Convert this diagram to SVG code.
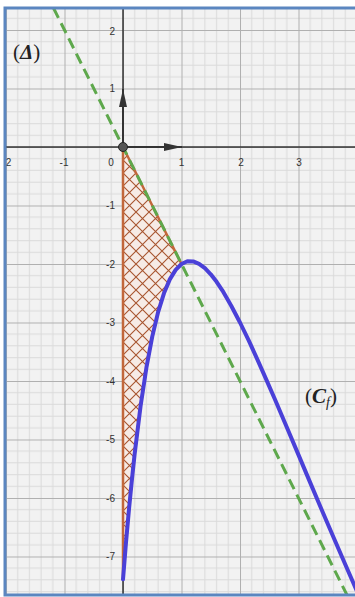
<svg xmlns="http://www.w3.org/2000/svg" width="355" height="597" viewBox="0 0 355 597">
  <style>
    .tick { font-family: "Liberation Sans", Arial, sans-serif; font-size: 10px; fill: #333; }
    .tx { text-anchor: middle; }
    .ty { text-anchor: end; }
    .lbl { font-family: "Liberation Serif", "Times New Roman", serif; font-size: 21px; fill: #222; }
    .axis { stroke: #333; stroke-width: 1.5; fill: none; }
    .vec { stroke: #333; stroke-width: 2; fill: none; }
  </style>
  <defs>
    <pattern id="grid" patternUnits="userSpaceOnUse" x="123" y="147" width="58.5" height="58.5">
      <rect width="58.5" height="58.5" fill="#f2f2f2"/>
      <path d="M11.7,0V58.5M23.4,0V58.5M35.1,0V58.5M46.8,0V58.5M0,11.7H58.5M0,23.4H58.5M0,35.1H58.5M0,46.8H58.5" stroke="#dadada" stroke-width="1"/>
      <path d="M0.5,0V58.5M0,0.5H58.5" stroke="#b0b0b0" stroke-width="1"/>
    </pattern>
    <pattern id="hatch" patternUnits="userSpaceOnUse" x="123" y="147" width="13" height="13">
      <rect width="13" height="13" fill="#f6ebe6"/>
      <path d="M0,0L13,13M13,0L0,13" stroke="#a8552f" stroke-width="1.1"/>
    </pattern>
    <marker id="arrow" markerUnits="userSpaceOnUse" markerWidth="18" markerHeight="9" refX="18" refY="4.5" orient="auto">
      <path d="M0,0.5L18,4.5L0,8.5Z" fill="#333"/>
    </marker>
    <clipPath id="frame">
      <rect x="5" y="8" width="355" height="587"/>
    </clipPath>
  </defs>

  <rect width="355" height="597" fill="#ffffff"/>
  <g clip-path="url(#frame)">
    <rect id="background" x="5" y="8" width="355" height="587" fill="url(#grid)"/>

    <g id="axes">
      <line class="axis" x1="5" y1="147" x2="355" y2="147"/>
      <line class="axis" x1="123" y1="8" x2="123" y2="595"/>
    </g>

    <g id="tick-labels">
      <text class="tick tx" x="8.5" y="165.5">2</text>
      <text class="tick tx" x="64" y="165.5">-1</text>
      <text class="tick tx" x="111" y="165.5">0</text>
      <text class="tick tx" x="181.5" y="165.5">1</text>
      <text class="tick tx" x="241" y="165.5">2</text>
      <text class="tick tx" x="299" y="165.5">3</text>
      <text class="tick ty" x="115" y="34.5">2</text>
      <text class="tick ty" x="115" y="92">1</text>
      <text class="tick ty" x="115" y="209">-1</text>
      <text class="tick ty" x="115" y="267.5">-2</text>
      <text class="tick ty" x="115" y="326">-3</text>
      <text class="tick ty" x="115" y="384.5">-4</text>
      <text class="tick ty" x="115" y="443">-5</text>
      <text class="tick ty" x="115" y="501.5">-6</text>
      <text class="tick ty" x="115" y="560">-7</text>
    </g>

    <g id="hatched-region">
      <path d="M123,147 L181.5,264 L175.65,269.9 L169.8,279.4 L163.95,293.3 L158.1,312.1 L152.25,336.6 L146.4,367.7 L140.55,406.3 L134.7,453.5 L131.8,480.8 L128.85,510.7 L125.9,543.5 L124.5,561 L123,579.3 Z" fill="url(#hatch)" stroke="#c2673b" stroke-width="2.5" stroke-linejoin="round"/>
    </g>

    <g id="connectors">
      <line id="delta-line" x1="53.5" y1="8" x2="347" y2="595" stroke="#5ea84c" stroke-width="3" stroke-dasharray="11 6"/>
      <path id="cf-curve" d="M123,579.3 L124.5,561 L125.9,543.5 L128.85,510.7 L131.8,480.8 L134.7,453.5 L140.55,406.3 L146.4,367.7 L152.25,336.6 L158.1,312.1 L163.95,293.3 L169.8,279.4 L175.65,269.9 L181.5,264 L187.35,261.3 L193.2,261.4 L199.05,263.8 L204.9,268.2 L210.75,274.3 L216.6,281.8 L222.45,290.6 L231.2,305.7 L240,322.5 L248.8,340.6 L257.55,359.8 L266.3,379.6 L275.1,399.8 L286.8,427.3 L298.5,454.9 L310.2,482.6 L321.9,510.2 L333.6,537.5 L345.3,564.5 L357,591.3" fill="none" stroke="#4a40d8" stroke-width="4" stroke-linejoin="round" stroke-linecap="round"/>
      <line class="vec" x1="123" y1="147" x2="182" y2="147" marker-end="url(#arrow)"/>
      <line class="vec" x1="123" y1="147" x2="123" y2="89" marker-end="url(#arrow)"/>
    </g>

    <g id="origin">
      <circle cx="123" cy="147" r="4.5" fill="#555" stroke="#222" stroke-width="1"/>
    </g>

    <g id="label-delta">
      <text class="lbl" x="13" y="59">(<tspan font-style="italic" font-weight="bold">Δ</tspan>)</text>
    </g>
    <g id="label-cf">
      <text class="lbl" x="305" y="403">(<tspan font-style="italic" font-weight="bold">C</tspan><tspan font-style="italic" font-size="14" dy="4">f</tspan><tspan dy="-4">)</tspan></text>
    </g>
  </g>

  <rect id="border" x="5" y="8" width="360" height="587" fill="none" stroke="#5b86c0" stroke-width="3"/>
</svg>
